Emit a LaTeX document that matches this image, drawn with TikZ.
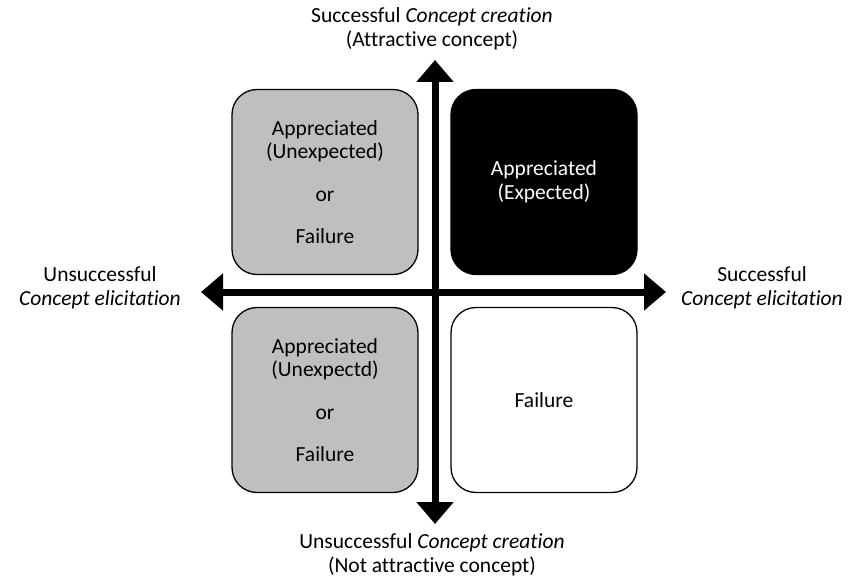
\documentclass[tikz,border=0pt]{standalone}
\usepackage{fontspec}
\setmainfont[Ligatures=CommonOff]{Carlito}
\usetikzlibrary{arrows.meta,positioning}
\definecolor{boxgray}{RGB}{191,191,191}

\begin{document}
\begin{tikzpicture}[x=1pt,y=-1pt,
    font=\fontsize{21.5}{23.5}\selectfont,
    quad/.style={draw,line width=1.3pt,rounded corners=25pt,minimum width=186pt,
      minimum height=185pt,align=center,inner sep=0pt},
    axis/.style={line width=7pt,{Triangle[width=36pt,length=22pt]}-{Triangle[width=36pt,length=22pt]}},
    lbl/.style={align=center,inner sep=0pt}]
      \useasboundingbox (0,0) rectangle (863,578);
      \node [quad,fill=boxgray] (ul) at (325,182) {Appreciated\\(Unexpected)\\[19pt]or\\[19pt]Failure};
      \node [quad,fill=black,text=white] (ur) at (544,182) {Appreciated\\(Expected)};
      \node [quad,fill=boxgray] (ll) at (325,400) {Appreciated\\(Unexpectd)\\[19pt]or\\[19pt]Failure};
      \node [quad,fill=white] (lr) at (544,400) {Failure};
      \coordinate (top) at (435,60);
      \coordinate (bottom) at (435,524);
      \coordinate (left) at (201,292);
      \coordinate (right) at (666,292);
      \draw [axis] (left) -- (right);
      \draw [axis] (bottom) -- (top);
      \node [lbl] (creaok) at (432,29) {Successful \textit{Concept creation}\\(Attractive concept)};
      \node [lbl] (creano) at (432,555) {Unsuccessful \textit{Concept creation}\\(Not attractive concept)};
      \node [lbl] (elino) at (100,288) {Unsuccessful\\\textit{Concept elicitation}};
      \node [lbl] (eliok) at (762,288) {Successful\\\textit{Concept elicitation}};
    \end{tikzpicture}
\end{document}
